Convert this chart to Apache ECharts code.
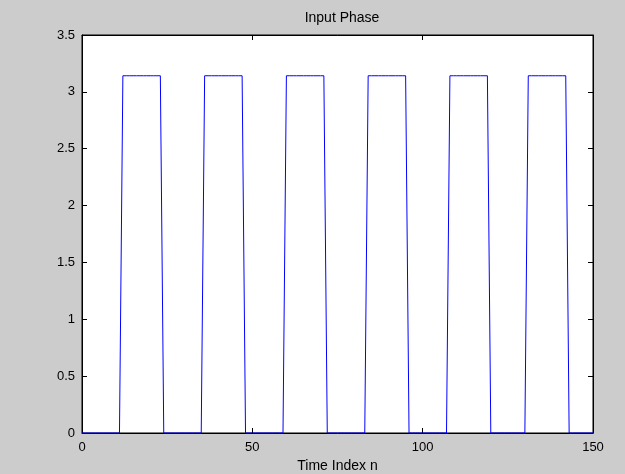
<!DOCTYPE html>
<html>
<head>
<meta charset="utf-8">
<script src="https://cdn.jsdelivr.net/npm/echarts@6/dist/echarts.min.js"></script>
<style>
html,body{margin:0;padding:0;background:#cccccc;}
#chart{width:625px;height:474px;}
</style>
</head>
<body>
<div id="chart"></div>
<script>
// Data
var titleText = 'Input Phase';
var xLabelText = 'Time Index n';
var P = 3.1416;
// phase samples for n = 0, 1, 2, ... (one value per sample)
var phase = [
  0,0,0,0,0,0,0,0,0,0,0,0,
  P,P,P,P,P,P,P,P,P,P,P,P,
  0,0,0,0,0,0,0,0,0,0,0,0,
  P,P,P,P,P,P,P,P,P,P,P,P,
  0,0,0,0,0,0,0,0,0,0,0,0,
  P,P,P,P,P,P,P,P,P,P,P,P,
  0,0,0,0,0,0,0,0,0,0,0,0,
  P,P,P,P,P,P,P,P,P,P,P,P,
  0,0,0,0,0,0,0,0,0,0,0,0,
  P,P,P,P,P,P,P,P,P,P,P,P,
  0,0,0,0,0,0,0,0,0,0,0,
  P,P,P,P,P,P,P,P,P,P,P,P,
  0,0,0,0,0,0,0,0
];
var xTicks = [0, 50, 100, 150];
var yTicks = [0, 0.5, 1, 1.5, 2, 2.5, 3, 3.5];

var seriesData = phase.map(function (v, i) { return [i, v]; });

var font = 'Liberation Sans, Arial, Helvetica, sans-serif';
var chart = echarts.init(document.getElementById('chart'), null, {renderer: 'canvas'});

function xAx(pos, labels) {
  return {
    type: 'value', position: pos,
    min: xTicks[0], max: xTicks[xTicks.length - 1], interval: xTicks[1] - xTicks[0],
    axisLine: {show: true, onZero: false, lineStyle: {color: '#000', width: 1}},
    axisTick: {show: true, inside: true, length: 5, lineStyle: {color: '#000', width: 1}},
    axisLabel: {show: labels, color: '#000', fontFamily: font, fontSize: 13, margin: 8},
    splitLine: {show: false},
    name: labels ? xLabelText : '',
    nameLocation: 'middle', nameGap: 26,
    nameTextStyle: {color: '#000', fontFamily: font, fontSize: 14}
  };
}
function yAx(pos, labels) {
  return {
    type: 'value', position: pos,
    min: yTicks[0], max: yTicks[yTicks.length - 1], interval: yTicks[1] - yTicks[0],
    axisLine: {show: true, onZero: false, lineStyle: {color: '#000', width: 1}},
    axisTick: {show: true, inside: true, length: 5, lineStyle: {color: '#000', width: 1}},
    axisLabel: {show: labels, color: '#000', fontFamily: font, fontSize: 13, margin: 7},
    splitLine: {show: false}
  };
}

chart.setOption({
  animation: false,
  backgroundColor: '#cccccc',
  title: {
    text: titleText, left: 337, top: 6, textAlign: 'center',
    textStyle: {color: '#000', fontFamily: font, fontSize: 14, fontWeight: 'normal'}
  },
  grid: {left: 82, right: 32, top: 35, bottom: 41, containLabel: false, outerBoundsMode: 'none',
    show: true, backgroundColor: '#ffffff', borderColor: '#000', borderWidth: 1},
  xAxis: [xAx('bottom', true), xAx('top', false)],
  yAxis: [yAx('left', true), yAx('right', false)],
  series: [{
    type: 'line', xAxisIndex: 0, yAxisIndex: 0,
    data: seriesData, showSymbol: false, clip: false,
    lineStyle: {color: '#0000ff', width: 1}, z: 5, zlevel: 1
  }]
});
</script>
</body>
</html>
